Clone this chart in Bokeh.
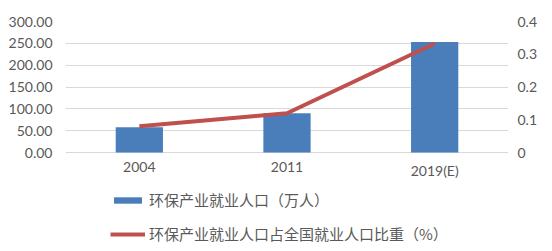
from bokeh.plotting import figure
from bokeh.models import (ColumnDataSource, FactorRange, Range1d, LinearAxis, FixedTicker,
                          NumeralTickFormatter, CustomJSTickFormatter, Legend, LegendItem)
from bokeh.core.properties import value
from bokeh.embed import file_html
from bokeh.resources import INLINE

years = ["2004", "2011", "2019(E)"]
employment = [58, 90, 253]          # 环保产业就业人口（万人）
share = [0.08, 0.12, 0.333]         # 占全国就业人口比重（%）
left_ticks = [0, 50, 100, 150, 200, 250, 300]
right_ticks = [0, 0.1, 0.2, 0.3, 0.4]

# plot area: value axis spans the upper 131 px of a 230 px tall frame; the lower part holds labels + legend
frac_below = 99 / 131.0
left_max, right_max = 300, 0.4

src = ColumnDataSource(dict(x=years, emp=employment, share=share, zero=[0] * len(years)))

p = figure(x_range=FactorRange(*years, range_padding=0),
           y_range=Range1d(-left_max * frac_below, left_max),
           width=552, height=251, output_backend="svg", toolbar_location=None,
           min_border_left=65, min_border_right=44, min_border_top=21, min_border_bottom=0)
p.outline_line_color = None
p.background_fill_color = "white"
p.extra_y_ranges = {"r": Range1d(-right_max * frac_below, right_max)}

bars = p.vbar(x="x", top="emp", width=0.32, source=src, fill_color="#4A7EBB", line_color=None)
line = p.line(x="x", y="share", source=src, y_range_name="r", line_color="#C0504D", line_width=4)

font = "Lato"
lab_col = "#595959"

p.xaxis.visible = False
p.text(x="x", y="zero", text="x", source=src, y_offset=9, text_baseline="top", text_align="center",
       text_font=value(font), text_font_size=value("14px"), text_color=lab_col)

yax = p.yaxis[0]
yax.ticker = FixedTicker(ticks=left_ticks)
yax.formatter = NumeralTickFormatter(format="0.00")

rax = LinearAxis(y_range_name="r", ticker=FixedTicker(ticks=right_ticks),
                 formatter=CustomJSTickFormatter(code="return tick == 0 ? '0' : tick.toFixed(1);"))
p.add_layout(rax, "right")

for ax in [yax, rax]:
    ax.axis_line_color = None
    ax.major_tick_line_color = None
    ax.minor_tick_line_color = None
    ax.major_tick_out = 0
    ax.major_tick_in = 0
    ax.major_label_text_font = font
    ax.major_label_text_font_size = "14px"
    ax.major_label_text_color = lab_col
yax.major_label_standoff = 13
rax.major_label_standoff = 9

p.xgrid.grid_line_color = None
p.ygrid.ticker = FixedTicker(ticks=left_ticks)
p.ygrid.grid_line_color = "#D9D9D9"
p.ygrid.grid_line_width = 1

legend = Legend(items=[LegendItem(label="环保产业就业人口（万人）", renderers=[bars]),
                       LegendItem(label="环保产业就业人口占全国就业人口比重（%）", renderers=[line])],
                location=(45, 7), orientation="vertical",
                label_text_font="Noto Sans CJK SC", label_text_font_size="15px",
                label_text_color=lab_col, glyph_width=35, glyph_height=8,
                label_height=16, spacing=13, padding=0, margin=0,
                border_line_color=None, background_fill_alpha=0, label_standoff=4)
p.add_layout(legend, "center")

open("out.html", "w").write(file_html(p, INLINE))
